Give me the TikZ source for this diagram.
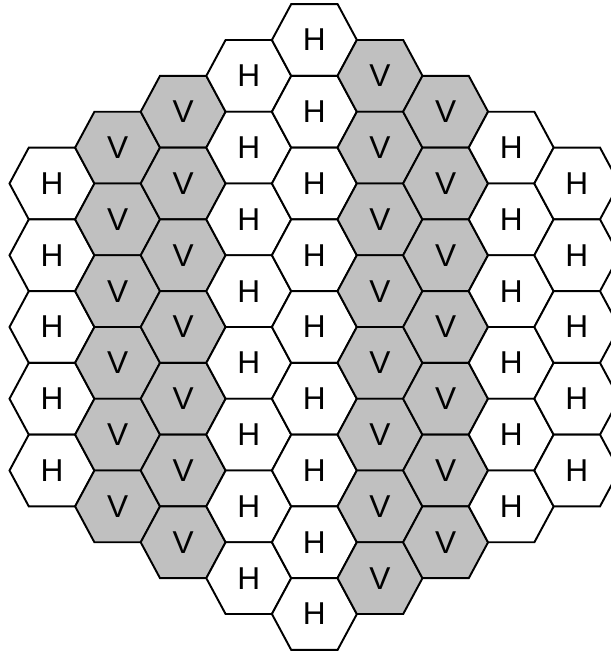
\documentclass[tikz,border=0pt]{standalone}
\usepackage{fontspec}
\setmainfont{Liberation Sans}
\usepackage{xcolor}
\usepackage{tikz}
\definecolor{cellgray}{HTML}{C0C0C0}

\begin{document}
\begin{tikzpicture}[x=0.02cm, y=-0.02cm,
  hexcell/.style={draw=black, line width=1.1pt, line join=miter},
  lbl/.style={font=\fontsize{18}{20}\selectfont, inner sep=0pt}
]
  \useasboundingbox (0,0) rectangle (611,654);
  % columns: index / number of cells / letter / fill
  \foreach \c/\n/\kind/\fc in {0/5/H/white, 1/6/V/cellgray, 2/7/V/cellgray, 3/8/H/white, 4/9/H/white,
                               5/8/V/cellgray, 6/7/V/cellgray, 7/6/H/white, 8/5/H/white} {
    \foreach \r in {1,...,\n} {
      \pgfmathsetmacro{\cx}{52+65.6*\c}
      \pgfmathsetmacro{\cy}{327-(\n-1)*35.875+(\r-1)*71.75}
      \draw[hexcell, fill=\fc, shift={(\cx,\cy)}]
        (-42.5,0) -- (-23.2,-35.875) -- (23.2,-35.875) -- (42.5,0)
        -- (23.2,35.875) -- (-23.2,35.875) -- cycle;
      \node[lbl] (\kind-\c-\r) at (\cx,\cy) {\kind};
    }
  }
\end{tikzpicture}
\end{document}
